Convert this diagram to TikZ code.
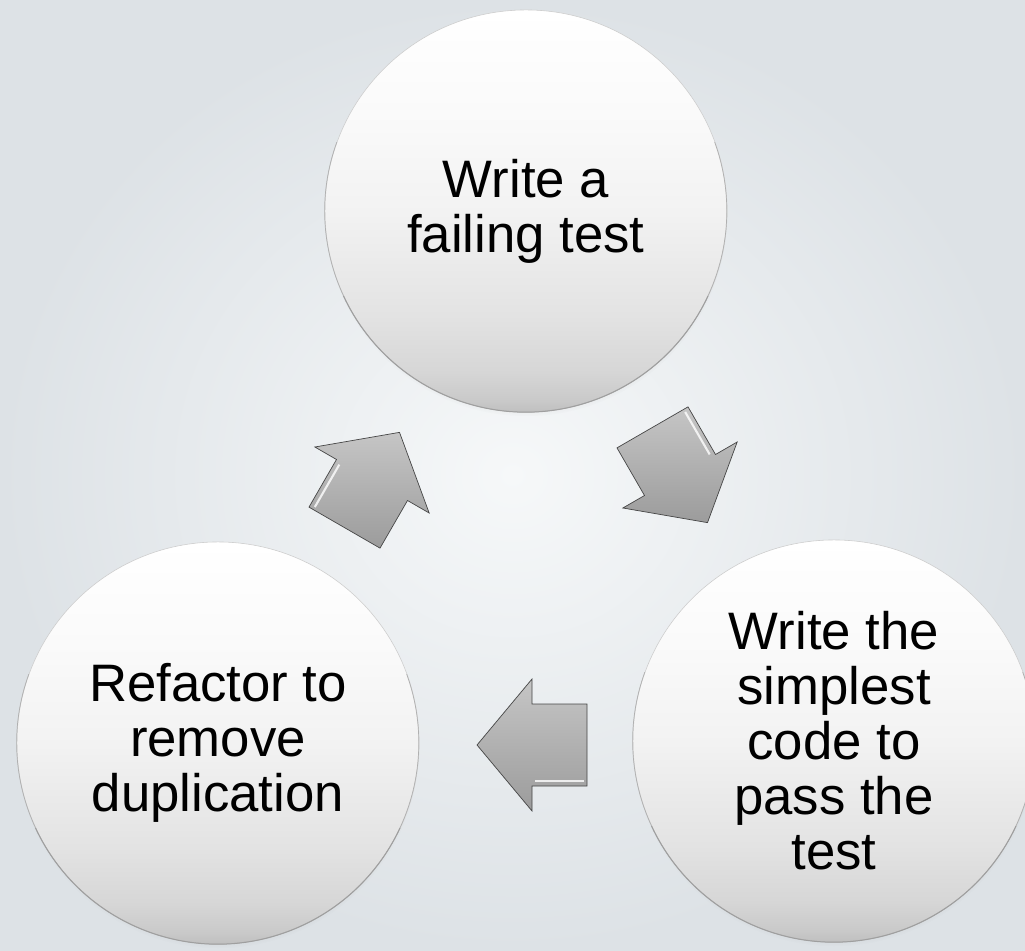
\documentclass[tikz,border=0pt]{standalone}
\usepackage{fontspec}
\setmainfont{Liberation Sans}
\usetikzlibrary{shadows}
\pgfdeclareverticalshading{bubbleshade}{100bp}{color(0bp)=(gray!50); color(25bp)=(gray!50); color(26.5bp)=(gray!42); color(30bp)=(gray!32); color(37bp)=(gray!22); color(50bp)=(gray!10); color(62bp)=(gray!4); color(75bp)=(white); color(100bp)=(white)}
\definecolor{bgin}{HTML}{F6F8F9}
\definecolor{bgout}{HTML}{DDE2E6}
\tikzset{
  bubble/.style={circle, minimum size=10.05cm, inner sep=0pt, align=center,
    shading=bubbleshade, draw=gray!40, line width=0.4pt,
    circular drop shadow={shadow xshift=0pt, shadow yshift=-3pt, opacity=0.3, shadow scale=1.0},
    font=\fontsize{37.5}{39.1}\selectfont},
  blockarrow/.style={top color=gray!45, bottom color=gray!78, draw=gray!55!black, line width=0.5pt, line join=miter},
  glint/.style={white, line width=1.5pt, opacity=0.8}
}
\begin{document}
\begin{tikzpicture}[x=0.025cm, y=0.025cm]
    \useasboundingbox (0,0) rectangle (1025,950);
    \clip (0,0) rectangle (1025,950);
    \shade[inner color=bgin, outer color=bgout] (0,0) rectangle (1025,950);
    \node[bubble] (fail) at (526,739) {Write a\\failing test};
    \node[bubble] (pass) at (834,209) {Write the\\simplest\\code to\\pass the\\test};
    \node[bubble] (refactor) at (218,207) {Refactor to\\remove\\duplication};
    \foreach \n in {fail,pass,refactor} {
        \draw[gray!62, line width=0.5pt] (\n.160) arc[start angle=160, end angle=380, radius=5.025cm];
        \draw[gray!75, line width=0.7pt] (\n.205) arc[start angle=205, end angle=335, radius=5.025cm];
    }
    \begin{scope}[shift={(680,475)}, rotate=-60]
        \draw[blockarrow] (-55,-41) -- (0,-41) -- (0,-66) -- (55,0) -- (0,66) -- (0,41) -- (-55,41) -- cycle;
        \draw[glint] (-52,36) -- (-3,36);
    \end{scope}
    \begin{scope}[shift={(532,205)}, rotate=180]
        \draw[blockarrow] (-55,-41) -- (0,-41) -- (0,-66) -- (55,0) -- (0,66) -- (0,41) -- (-55,41) -- cycle;
        \draw[glint] (-52,36) -- (-3,36);
    \end{scope}
    \begin{scope}[shift={(372,470)}, rotate=60]
        \draw[blockarrow] (-55,-41) -- (0,-41) -- (0,-66) -- (55,0) -- (0,66) -- (0,41) -- (-55,41) -- cycle;
        \draw[glint] (-52,36) -- (-3,36);
    \end{scope}
\end{tikzpicture}
\end{document}
